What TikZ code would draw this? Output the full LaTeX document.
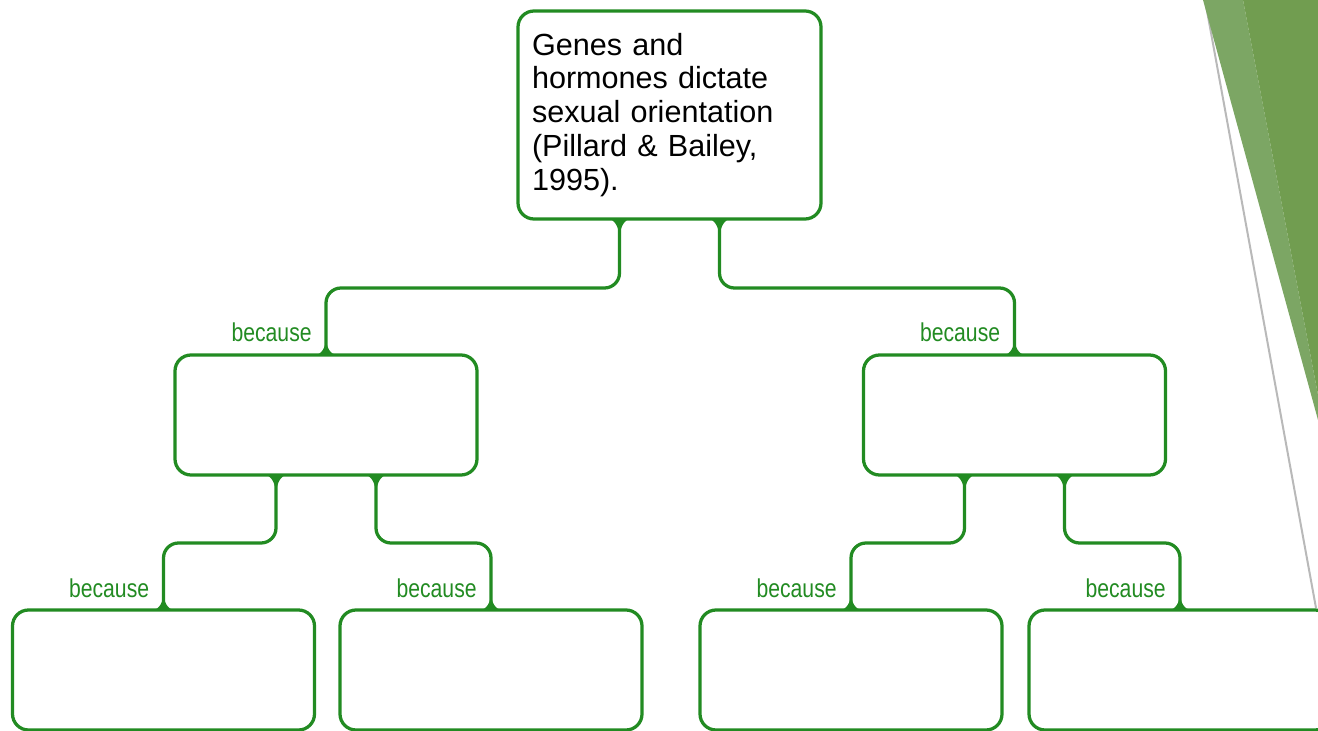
\documentclass[tikz,border=0pt]{standalone}
\usepackage{fontspec}
\setmainfont{Liberation Sans}
\usetikzlibrary{calc}
\definecolor{linkgreen}{RGB}{34,139,34}
\definecolor{leafdark}{RGB}{113,157,80}
\definecolor{leaflight}{RGB}{124,166,100}
\tikzset{%
    box/.style={draw=linkgreen,line width=0.065cm,rounded corners=0.32cm,fill=white,
        minimum width=6.04cm,minimum height=2.4cm,inner sep=0pt,outer sep=0pt},
    link/.style={draw=linkgreen,line width=0.065cm,rounded corners=0.3cm},
    because/.style={text=linkgreen,inner sep=0pt,anchor=base east,font=\fontsize{14.7}{16}\selectfont},
}
% small concave flare where a link leaves or meets a box
\newcommand{\joinbelow}[1]{%
  \fill[linkgreen] #1 ++(-0.22,0) arc[start angle=90,end angle=0,x radius=0.22,y radius=0.4]
    arc[start angle=180,end angle=90,x radius=0.22,y radius=0.4] -- cycle;}
\newcommand{\joinabove}[1]{%
  \fill[linkgreen] #1 ++(-0.22,0) arc[start angle=-90,end angle=0,x radius=0.22,y radius=0.34]
    arc[start angle=180,end angle=270,x radius=0.22,y radius=0.34] -- cycle;}
\newcommand{\narrow}[1]{\scalebox{0.82}[1]{#1}}

\begin{document}
\begin{tikzpicture}
        \useasboundingbox (0,0) rectangle (26.36,-14.62);
        \clip (0,0) rectangle (26.36,-14.62);

        % corner decoration
        \draw[gray!55,line width=0.04cm] (24.1,0) -- (26.32,-12.16);
        \fill[leaflight] (24.06,0) -- (24.86,0) -- (26.36,-7.9) -- (26.36,-8.4) -- cycle;
        \fill[leafdark] (24.86,0) -- (26.36,0) -- (26.36,-7.9) -- cycle;

        \node[box,minimum width=6.06cm,minimum height=4.16cm,text width=5.5cm,align=left,
              font=\fontsize{17.4}{19.3}\selectfont] (top) at (13.39,-2.30)
              {Genes and\\hormones dictate\\sexual orientation\\(Pillard \& Bailey,\\1995).};

        \node[box] (midL) at (6.52,-8.30) {};
        \node[box] (midR) at (20.29,-8.30) {};

        \node[box] (botA) at (3.27,-13.40) {};
        \node[box] (botB) at (9.82,-13.40) {};
        \node[box] (botC) at (17.02,-13.40) {};
        \node[box] (botD) at (23.60,-13.40) {};

        \draw[link] ([xshift=-1cm]top.south) -- ++(0,-1.38) -| (midL.north);
        \draw[link] ([xshift=1cm]top.south) -- ++(0,-1.38) -| (midR.north);
        \draw[link] ([xshift=-1cm]midL.south) -- ++(0,-1.36) -| (botA.north);
        \draw[link] ([xshift=1cm]midL.south) -- ++(0,-1.36) -| (botB.north);
        \draw[link] ([xshift=-1cm]midR.south) -- ++(0,-1.36) -| (botC.north);
        \draw[link] ([xshift=1cm]midR.south) -- ++(0,-1.36) -| (botD.north);

        \joinbelow{([xshift=-1cm]top.south)}
        \joinbelow{([xshift=1cm]top.south)}
        \joinbelow{([xshift=-1cm]midL.south)}
        \joinbelow{([xshift=1cm]midL.south)}
        \joinbelow{([xshift=-1cm]midR.south)}
        \joinbelow{([xshift=1cm]midR.south)}
        \joinabove{(midL.north)}
        \joinabove{(midR.north)}
        \joinabove{(botA.north)}
        \joinabove{(botB.north)}
        \joinabove{(botC.north)}
        \joinabove{(botD.north)}

        \node[because] (becL) at ([xshift=-0.28cm,yshift=0.26cm]midL.north) {\narrow{because}};
        \node[because] (becR) at ([xshift=-0.28cm,yshift=0.26cm]midR.north) {\narrow{because}};
        \node[because] (becA) at ([xshift=-0.28cm,yshift=0.26cm]botA.north) {\narrow{because}};
        \node[because] (becB) at ([xshift=-0.28cm,yshift=0.26cm]botB.north) {\narrow{because}};
        \node[because] (becC) at ([xshift=-0.28cm,yshift=0.26cm]botC.north) {\narrow{because}};
        \node[because] (becD) at ([xshift=-0.28cm,yshift=0.26cm]botD.north) {\narrow{because}};
      \end{tikzpicture}
\end{document}
